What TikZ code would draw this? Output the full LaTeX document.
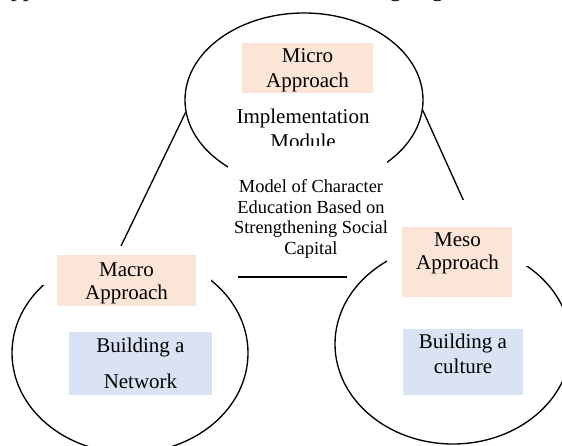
\documentclass[tikz,border=0pt]{standalone}
\usepackage{fontspec}
\setmainfont{Liberation Serif}
\usetikzlibrary{shapes.geometric}
\definecolor{apprfill}{HTML}{FBE5D6}
\definecolor{buildfill}{HTML}{DAE3F3}
\begin{document}
\begin{tikzpicture}[x=.75pt, y=-.75pt,
    ring/.style={draw, ellipse, line width=1pt, inner sep=0pt},
    pad/.style={fill=white, inner sep=0pt},
    apprbox/.style={fill=apprfill, inner sep=0pt},
    buildbox/.style={fill=buildfill, inner sep=0pt},
    lbl/.style={anchor=north, align=center, inner sep=0pt, font=\fontsize{15.75}{#1}\selectfont},
    lbl/.default=17.5]
\useasboundingbox (0,0) rectangle (562,446);
\clip (0,0) rectangle (562,446);
% line of the page above the figure
\node[anchor=base west, inner sep=0pt, font=\fontsize{18}{20}\selectfont] (pagetext) at (0,-3.5)
    {\makebox[360pt][s]{approaches as stated in the following figure.}};
% the three rings
\node[ring, minimum width=178.5pt, minimum height=130.5pt] (micro-ring) at (304,100) {};
\node[ring, minimum width=177pt, minimum height=150pt] (macro-ring) at (130,353) {};
\node[ring, minimum width=177pt, minimum height=150pt] (meso-ring) at (453,344) {};
\draw[line width=1pt] (micro-ring.186) -- (macro-ring.97);
\draw[line width=1pt] (micro-ring.355) -- (meso-ring.72);
\node[lbl=18.75] (impl) at (303,108.2) {Implementation\\Module};
% white boxes over the rings
\node[pad, minimum width=119.25pt, minimum height=85.5pt] (model) at (307.5,203) {};
\node[pad, minimum width=127.5pt, minimum height=29.25pt] (macro-pad) at (126,265.5) {};
\node[pad, minimum width=107.25pt, minimum height=49.5pt] (meso-pad) at (458.5,233) {};
% coloured boxes
\node[apprbox, minimum width=98.25pt, minimum height=37.5pt] (micro) at (307.5,68) {};
\node[apprbox, minimum width=104.25pt, minimum height=38.25pt] (macro) at (126.5,280.5) {};
\node[apprbox, minimum width=82.5pt, minimum height=52.5pt] (meso) at (457,262) {};
\node[buildbox, minimum width=107.25pt, minimum height=47.25pt] (network) at (140.5,363.5) {};
\node[buildbox, minimum width=90pt, minimum height=49.5pt] (culture) at (463,362) {};
\node[lbl=18.75] (micro-txt) at (307.5,48.7) {Micro\\Approach};
\node[lbl] (macro-txt) at (126.5,262.4) {Macro\\Approach};
\node[lbl] (meso-txt) at (457.5,232.4) {Meso\\Approach};
\node[lbl=27] (network-txt) at (140.5,337.7) {Building a\\Network};
\node[lbl=18.75] (culture-txt) at (463,333.7) {Building a\\culture};
\begin{scope}
\clip (model.north west) rectangle (model.south east);
\node[anchor=north, align=center, inner sep=0pt, font=\fontsize{13.8}{15.6}\selectfont] (model-txt) at (311,179.1)
    {Model of Character\\Education Based on\\Strengthening Social\\Capital};
\end{scope}
\coordinate (base-l) at (238,277);
\coordinate (base-r) at (347,277);
\draw[line width=1.8pt] (base-l) -- (base-r);
\end{tikzpicture}
\end{document}
